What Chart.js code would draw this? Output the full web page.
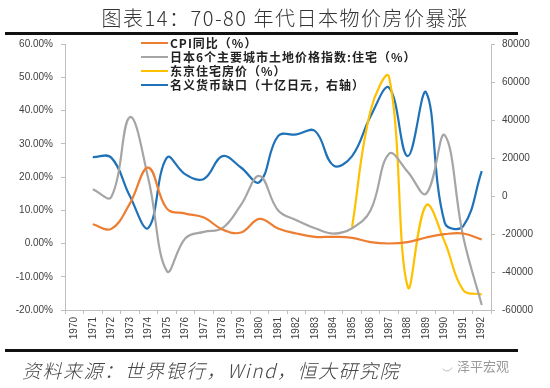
<!DOCTYPE html>
<html><head><meta charset="utf-8">
<script src="https://cdn.jsdelivr.net/npm/chart.js@4.4.0/dist/chart.umd.min.js"></script>
<style>html,body{margin:0;padding:0;background:#fff;}#wrap{width:550px;height:388px;position:relative;}</style>
</head><body><div id="wrap"><canvas id="c" width="550" height="388"></canvas></div>
<script>
const years = ['1970','1971','1972','1973','1974','1975','1976','1977','1978','1979','1980','1981','1982','1983','1984','1985','1986','1987','1988','1989','1990','1991','1992'];
const cpiYoY = [null, 5.8, 4.4, 12.0, 22.8, 10.5, 9.0, 7.8, 4.2, 3.3, 7.4, 4.5, 3.0, 2.0, 2.0, 1.7, 0.4, 0.0, 0.4, 1.8, 2.8, 3.0, 1.2];
const landIndex = [null, 16.3, 14.0, 38.0, 19.5, -8.3, 1.6, 3.5, 4.6, 11.6, 20.3, 10.0, 7.0, 4.6, 3.0, 4.6, 10.0, 27.0, 21.6, 15.0, 32.6, 2.0, -18.5];
const tokyoHouse = [null, null, null, null, null, null, null, null, null, null, null, null, null, null, null, 5.0, 40.0, 50.0, -13.0, 11.5, 0.5, -14.0, -15.3];
const moneyGap = [null, 20500, 20200, 0, -16800, 20200, 11400, 9000, 21000, 15000, 7300, 31500, 32400, 34200, 16000, 21000, 42000, 57000, 21000, 54500, -14000, -15900, 13100];
const leftTicks = {min: -20, max: 60, step: 10};
const rightTicks = {min: -60000, max: 80000, step: 20000};
const seriesNames = ['CPI同比（%）', '日本6个主要城市土地价格指数:住宅（%）', '东京住宅房价（%）', '名义货币缺口（十亿日元，右轴）'];
const titleText = '图表14：70-80 年代日本物价房价暴涨';
const sourceText = '资料来源：世界银行，Wind，恒大研究院';
const markText = '泽平宏观';

const axisColor = '#bfbfbf';
const tickFont = {family: 'Liberation Sans', size: 10};

const decor = {
  id: 'decor',
  afterDraw(chart) {
    const ctx = chart.ctx;
    ctx.save();
    // title
    ctx.fillStyle = '#333';
    ctx.font = '300 20px "Noto Sans CJK SC"';
    ctx.letterSpacing = '1.5px';
    ctx.textAlign = 'center';
    ctx.textBaseline = 'middle';
    ctx.fillText(titleText, 285, 18);
    // rules
    ctx.fillStyle = '#111';
    ctx.fillRect(5, 32, 513, 3);
    ctx.fillRect(5, 349, 513, 3);
    // source
    ctx.fillStyle = '#444';
    ctx.font = 'italic 300 19px "Noto Sans CJK SC"';
    ctx.letterSpacing = '1.5px';
    ctx.textAlign = 'left';
    ctx.fillText(sourceText, 22, 371);
    // watermark
    ctx.letterSpacing = '0px';
    ctx.fillStyle = '#999';
    ctx.font = '13px "Noto Sans CJK SC"';
    ctx.fillText(markText, 457, 366);
    ctx.strokeStyle = '#bbb';
    ctx.lineWidth = 1;
    ctx.beginPath(); ctx.arc(447, 366, 5, 0.3, 2.6); ctx.stroke();
    // legend
    ctx.font = 'bold 12px "Noto Sans CJK SC"';
    ctx.letterSpacing = '1px';
    ctx.textBaseline = 'middle';
    const ys = [43, 57, 71, 85];
    chart.data.datasets.forEach((ds, i) => {
      ctx.strokeStyle = ds.borderColor;
      ctx.lineWidth = 2;
      ctx.beginPath(); ctx.moveTo(141, ys[i]); ctx.lineTo(168, ys[i]); ctx.stroke();
      ctx.fillStyle = '#222';
      ctx.fillText(ds.label, 170, ys[i]);
    });
    ctx.restore();
  }
};

new Chart(document.getElementById('c'), {
  type: 'line',
  data: {
    labels: years,
    datasets: [
      {label: seriesNames[0], data: cpiYoY, borderColor: '#ED7D31', yAxisID: 'y'},
      {label: seriesNames[1], data: landIndex, borderColor: '#A5A5A5', yAxisID: 'y'},
      {label: seriesNames[2], data: tokyoHouse, borderColor: '#FFC000', yAxisID: 'y'},
      {label: seriesNames[3], data: moneyGap, borderColor: '#1F72B8', yAxisID: 'y2'}
    ].map(d => Object.assign(d, {borderWidth: 2.2, pointRadius: 0, tension: 0.4, fill: false, spanGaps: false}))
  },
  options: {
    responsive: false,
    animation: false,
    layout: {padding: {top: 44, left: 0, right: 0, bottom: 0}},
    plugins: {legend: {display: false}, tooltip: {enabled: false}},
    scales: {
      x: {
        offset: true,
        grid: {offset: true, drawOnChartArea: false, drawTicks: true, tickLength: 4, color: axisColor},
        border: {display: true, color: axisColor},
        ticks: {font: tickFont, color: '#404040', minRotation: 90, maxRotation: 90, padding: 3, autoSkip: false},
        afterFit(s) { s.height = 78; }
      },
      y: {
        position: 'left', min: leftTicks.min, max: leftTicks.max,
        grid: {drawOnChartArea: false, drawTicks: true, tickLength: 4, color: axisColor},
        border: {display: true, color: axisColor},
        ticks: {stepSize: leftTicks.step, font: tickFont, color: '#404040', padding: 8, callback: v => v.toFixed(2) + '%'},
        afterFit(s) { s.width = 65; }
      },
      y2: {
        position: 'right', min: rightTicks.min, max: rightTicks.max,
        grid: {drawOnChartArea: false, drawTicks: true, tickLength: 4, color: axisColor},
        border: {display: true, color: axisColor},
        ticks: {stepSize: rightTicks.step, font: tickFont, color: '#404040', padding: 7, callback: v => String(v)},
        afterFit(s) { s.width = 59; }
      }
    }
  },
  plugins: [decor]
});
</script></body></html>
